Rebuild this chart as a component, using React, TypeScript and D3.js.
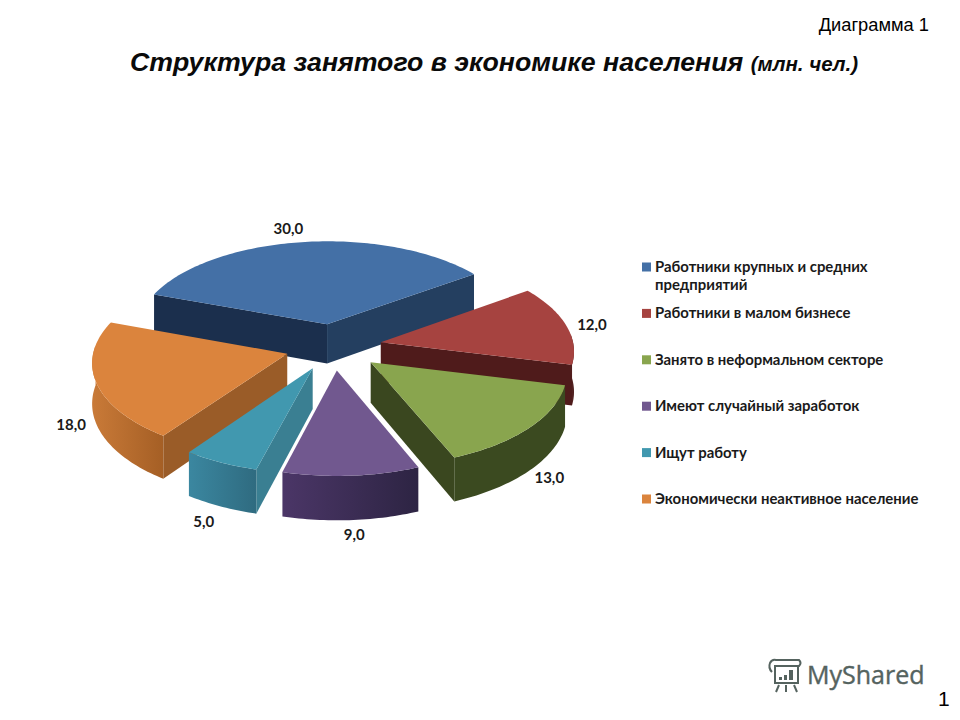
import React from 'react';
import * as d3 from 'd3';

const categories = [
  ['Работники крупных и средних', 'предприятий'],
  ['Работники в малом бизнесе'],
  ['Занято в неформальном секторе'],
  ['Имеют случайный заработок'],
  ['Ищут работу'],
  ['Экономически неактивное население'],
];
const values = [30, 12, 13, 9, 5, 18];
const valueLabels = ['30,0', '12,0', '13,0', '9,0', '5,0', '18,0'];

const topColors = ['#4470a6', '#a64340', '#89a54e', '#71588f', '#4198af', '#db843d'];
const radialColors = ['#1b2f4d', '#4f1b1b', '#3a471f', '#2f2545', '#3a7f92', '#9a5c28'];
const endRadialColors = ['#243f60', '#4f1b1b', '#3a471f', '#2f2545', '#3a7f92', '#9a5c28'];
const rimFrom = ['#243f60', '#55201e', '#3b4a20', '#4b3667', '#3b87a0', '#c97a38'];
const rimTo = ['#243f60', '#4a1b1b', '#3b4a20', '#2d2443', '#2f6b80', '#a55f25'];
// nudges from the middle of each slice's outer edge to its label
const labelNudge = [[-15, -13], [26, 0], [20, 50], [3, 59], [-17, 59], [-25, 42]];

const CX = 333.6;
const CY = 346.8;
const RX = 193;
const RY = 93;
const PERSP = 0.08;
const EXPLODE = 0.25;
const DEPTH = 40;

const FONT_ARIAL = '"Liberation Sans", Arial, sans-serif';
const FONT_LABEL = 'Lato, "Open Sans", sans-serif';

const pie = d3
  .pie<number>()
  .sort(null)
  .startAngle((-70 * Math.PI) / 180)
  .endAngle((290 * Math.PI) / 180);
const arcs = pie(values);

// ground plane -> screen, with a little perspective towards the viewer
function project(a: number, r: number, mid: number, down = 0): [number, number] {
  const X = Math.sin(mid) * EXPLODE + Math.sin(a) * r;
  const Y = -Math.cos(mid) * EXPLODE - Math.cos(a) * r;
  const k = 1 / (1 - PERSP * Y);
  return [CX + RX * X * k, CY + RY * Y * k + down * k];
}

const line = d3.line<[number, number]>().curve(d3.curveLinear);

function sample(a0: number, a1: number) {
  const n = Math.max(2, Math.ceil(Math.abs(a1 - a0) / 0.02));
  return d3.range(n + 1).map((i) => a0 + ((a1 - a0) * i) / n);
}

function Slice({ arc, i }: { arc: d3.PieArcDatum<number>; i: number }) {
  const { startAngle: a0, endAngle: a1 } = arc;
  const mid = (a0 + a1) / 2;
  const angles = sample(a0, a1);
  const top = [project(0, 0, mid), ...angles.map((a) => project(a, 1, mid))];

  const radial = (a: number) => [
    project(0, 0, mid),
    project(a, 1, mid),
    project(a, 1, mid, DEPTH),
    project(0, 0, mid, DEPTH),
  ] as [number, number][];

  // a cut face shows only when its outward normal points to the viewer
  const startVisible = -Math.cos(a0 - Math.PI / 2) > 0;
  const endVisible = -Math.cos(a1 + Math.PI / 2) > 0;

  const rimAngles = angles.filter((a) => Math.cos(a) < 0.1);
  const rim = rimAngles.length > 1
    ? [
        ...rimAngles.map((a) => project(a, 1, mid)),
        ...[...rimAngles].reverse().map((a) => project(a, 1, mid, DEPTH)),
      ]
    : null;

  return (
    <g>
      {startVisible && <path d={line(radial(a0))! + 'Z'} fill={radialColors[i]} />}
      {endVisible && <path d={line(radial(a1))! + 'Z'} fill={endRadialColors[i]} />}
      {rim && <path d={line(rim)! + 'Z'} fill={`url(#rim${i})`} />}
      <path d={line(top)! + 'Z'} fill={topColors[i]} />
    </g>
  );
}

export default function App() {
  // back to front
  const order = [0, 1, 5, 2, 4, 3];
  const legendY = d3.scalePoint<number>().domain(d3.range(6)).range([267, 499]);

  return (
    <svg
      width={960}
      height={720}
      viewBox="0 0 960 720"
      style={{ position: 'absolute', left: 0, top: 0, background: '#fff' }}
    >
      <defs>
        {values.map((_, i) => (
          <linearGradient key={i} id={`rim${i}`} x1="0" x2="1" y1="0" y2="0">
            <stop offset="0" stopColor={rimFrom[i]} />
            <stop offset="1" stopColor={rimTo[i]} />
          </linearGradient>
        ))}
      </defs>

      <text x={929} y={31} textAnchor="end" fontFamily={FONT_ARIAL} fontSize={18.3}>
        Диаграмма 1
      </text>
      <text x={130} y={71} fontFamily={FONT_ARIAL} fontWeight="bold" fontStyle="italic" fontSize={26.7} fill="#0a0a0a">
        Структура занятого в экономике населения{' '}
        <tspan fontSize={20.5}>(млн. чел.)</tspan>
      </text>

      {order.map((i) => (
        <Slice key={i} arc={arcs[i]} i={i} />
      ))}

      {arcs.map((arc, i) => {
        const mid = (arc.startAngle + arc.endAngle) / 2;
        const [x, y] = project(mid, 1, mid);
        return (
          <text
            key={i}
            x={x + labelNudge[i][0]}
            y={y + labelNudge[i][1]}
            dy="0.35em"
            textAnchor="middle"
            fontFamily={FONT_LABEL}
            fontWeight="bold"
            fontSize={15}
            fill="#1a1a1a"
          >
            {valueLabels[i]}
          </text>
        );
      })}

      {categories.map((lines, i) => (
        <g key={i}>
          <rect x={642} y={legendY(i)! - 4.5} width={9} height={9} fill={topColors[i]} />
          {lines.map((t, j) => (
            <text
              key={j}
              x={655}
              y={legendY(i)! + 5 + j * 18}
              fontFamily={FONT_LABEL}
              fontWeight="bold"
              fontSize={14.9}
              fill="#1a1a1a"
            >
              {t}
            </text>
          ))}
        </g>
      ))}

      {/* watermark */}
      <g stroke="#55635f" fill="none" strokeWidth={2}>
        <path d="M772 672 Q768 668 770 663 Q772 659 776 660 H799 Q802 663 799 666 H775 V683 H798 V666" />
        <path d="M779 685 L776 692 M786 685 V692 M794 685 L797 692" />
      </g>
      <g fill="#55635f">
        <rect x={779} y={677} width={3} height={3} />
        <rect x={784} y={675} width={3} height={5} />
        <rect x={789} y={670} width={4} height={10} />
      </g>
      <text x={807} y={684} fontFamily='"Open Sans", sans-serif' fontSize={25} fill="#55635f" stroke="#55635f" strokeWidth={0.4}>
        MyShared
      </text>
      <text x={938} y={706} fontFamily={FONT_ARIAL} fontSize={21}>
        1
      </text>
    </svg>
  );
}
